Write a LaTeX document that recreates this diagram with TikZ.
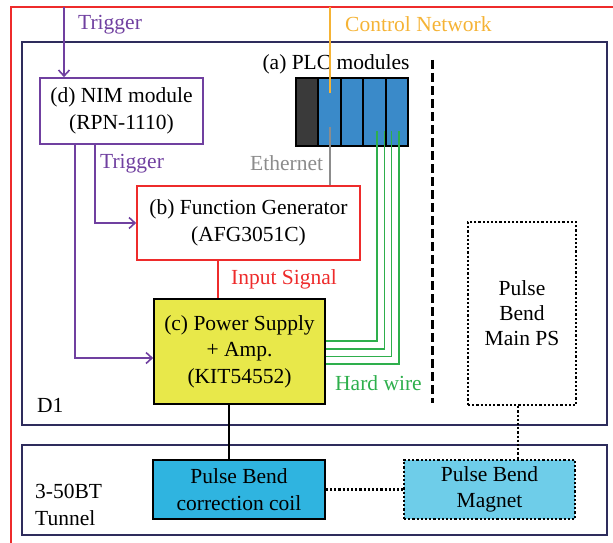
\documentclass[tikz,border=0pt]{standalone}
\usepackage{fontspec}
\setmainfont{Liberation Serif}
\usetikzlibrary{arrows.meta,calc}
\definecolor{cpurple}{HTML}{7040A0}
\definecolor{cred}{HTML}{EE2B2B}
\definecolor{corange}{HTML}{F5B335}
\definecolor{cnavy}{HTML}{2E2C5C}
\definecolor{cgreen}{HTML}{2EAF4C}
\definecolor{cgray}{HTML}{8C8C8C}
\definecolor{cyellow}{HTML}{E8E84A}
\definecolor{ccoil}{HTML}{2FB4E0}
\definecolor{cmag}{HTML}{6ECDE9}
\definecolor{cplc}{HTML}{3A8AC9}
\definecolor{cdark}{HTML}{3A3A3A}
\begin{document}
\begin{tikzpicture}[x=1pt,y=-1pt,font=\fontsize{21.5}{26.5}\selectfont,
  box/.style={draw,line width=1.6pt,align=center,inner sep=0pt},
  plcbox/.style={draw=black,line width=1.6pt,fill=cplc,minimum width=22.5pt,minimum height=68pt,inner sep=0pt},
  lbl/.style={anchor=west,inner sep=0pt},
  arr/.style={-{Straight Barb[length=6pt,width=11pt,line width=1.6pt]}},
  wire/.style={line width=1.6pt},
  dotline/.style={line width=2.2pt,dash pattern=on 2.2pt off 2pt},
  area/.style={draw=cnavy,line width=1.6pt}]
\useasboundingbox (0,0) rectangle (613,543);
% outer frame
\draw[cred,line width=1.6pt] (11,550) -- (11,7) -- (620,7);
% areas
\draw[area] (22,42) rectangle (607,425);
\draw[area] (22,445) rectangle (607,535);
% boxes
\node[box,draw=cpurple,minimum width=163pt,minimum height=66pt] (nim) at (121.5,111) {(d) NIM module\\(RPN-1110)};
\node[box,draw=cred,minimum width=223pt,minimum height=74pt] (fg) at (248.5,223) {(b) Function Generator\\(AFG3051C)};
\node[box,draw=black,fill=cyellow,minimum width=171pt,minimum height=105pt] (ps) at (239.5,351.5) {(c) Power Supply\\+ Amp.\\(KIT54552)};
\node[box,draw=black,fill=ccoil,minimum width=172pt,minimum height=59pt] (coil) at (239,489.5) {Pulse Bend\\correction coil};
\node[box,draw=black,fill=cmag,dotline,minimum width=171pt,minimum height=59pt] (mag) at (489.5,489.5) {Pulse Bend\\Magnet};
\node[box,dotline,minimum width=108pt,minimum height=183pt,font=\fontsize{21.5}{25}\selectfont] (mps) at (522,313.5) {Pulse\\Bend\\Main PS};
% PLC modules
\node[plcbox,fill=cdark,minimum width=22.5pt] (plc0) at (307.25,112) {};
\node[plcbox] (plc1) at (329.5,112) {};
\node[plcbox] (plc2) at (352,112) {};
\node[plcbox] (plc3) at (374.5,112) {};
\node[plcbox] (plc4) at (397,112) {};
\node[anchor=south,inner sep=0pt] (plclbl) at (336,74) {(a) PLC modules};
% separator
\coordinate (sepA) at (432,60);
\coordinate (sepB) at (432,403);
\draw[line width=3pt,dash pattern=on 9pt off 4pt] (sepA) -- (sepB);
% labels
\node[lbl,text=cpurple] (l1) at (78,25) {Trigger};
\node[lbl,text=corange] (l2) at (345,24) {Control Network};
\node[lbl,text=cgray] (l3) at (250,163) {Ethernet};
\node[lbl,text=cpurple] (l4) at (100,164) {Trigger};
\node[lbl,text=cred] (l5) at (231,279) {Input Signal};
\node[lbl,text=cgreen] (l6) at (335,383) {Hard wire};
\node[lbl] (l7) at (37,405) {D1};
\node[lbl,align=left] (l8) at (35,505) {3-50BT\\Tunnel};
% connectors
\coordinate (trigtop) at (64,7);
\draw[cpurple,wire,arr] (trigtop) -- (nim.north -| trigtop);
\draw[cpurple,wire,arr] ([xshift=-26.5pt]nim.south) |- (fg.west);
\draw[cpurple,wire,arr] ([xshift=-46.5pt]nim.south) |- ([yshift=-6.5pt]ps.west);
\coordinate (inx) at (218,0);
\draw[cred,wire] (fg.south -| inx) -- (ps.north -| inx);
\coordinate (cntop) at (330,7);
\coordinate (cnend) at (330,93);
\draw[corange,wire] (cntop) -- (cnend);
\coordinate (ethtop) at (330,127);
\draw[cgray,wire] (ethtop) -- (fg.north -| ethtop);
\coordinate (g1) at (377,131);
\coordinate (g2) at (384.3,131);
\coordinate (g3) at (391.6,131);
\coordinate (g4) at (399,131);
\draw[cgreen,wire] (g1) |- ([yshift=10.5pt]ps.east);
\draw[cgreen,wire] (g2) |- ([yshift=2.8pt]ps.east);
\draw[cgreen,wire] (g3) |- ([yshift=-4.8pt]ps.east);
\draw[cgreen,wire] (g4) |- ([yshift=-12.5pt]ps.east);
\coordinate (pcx) at (229,0);
\draw[wire] (ps.south -| pcx) -- (coil.north -| pcx);
\draw[dotline] (coil.east) -- (mag.west);
\coordinate (mx) at (518,0);
\draw[dotline] (mps.south -| mx) -- (mag.north -| mx);
\end{tikzpicture}
\end{document}
